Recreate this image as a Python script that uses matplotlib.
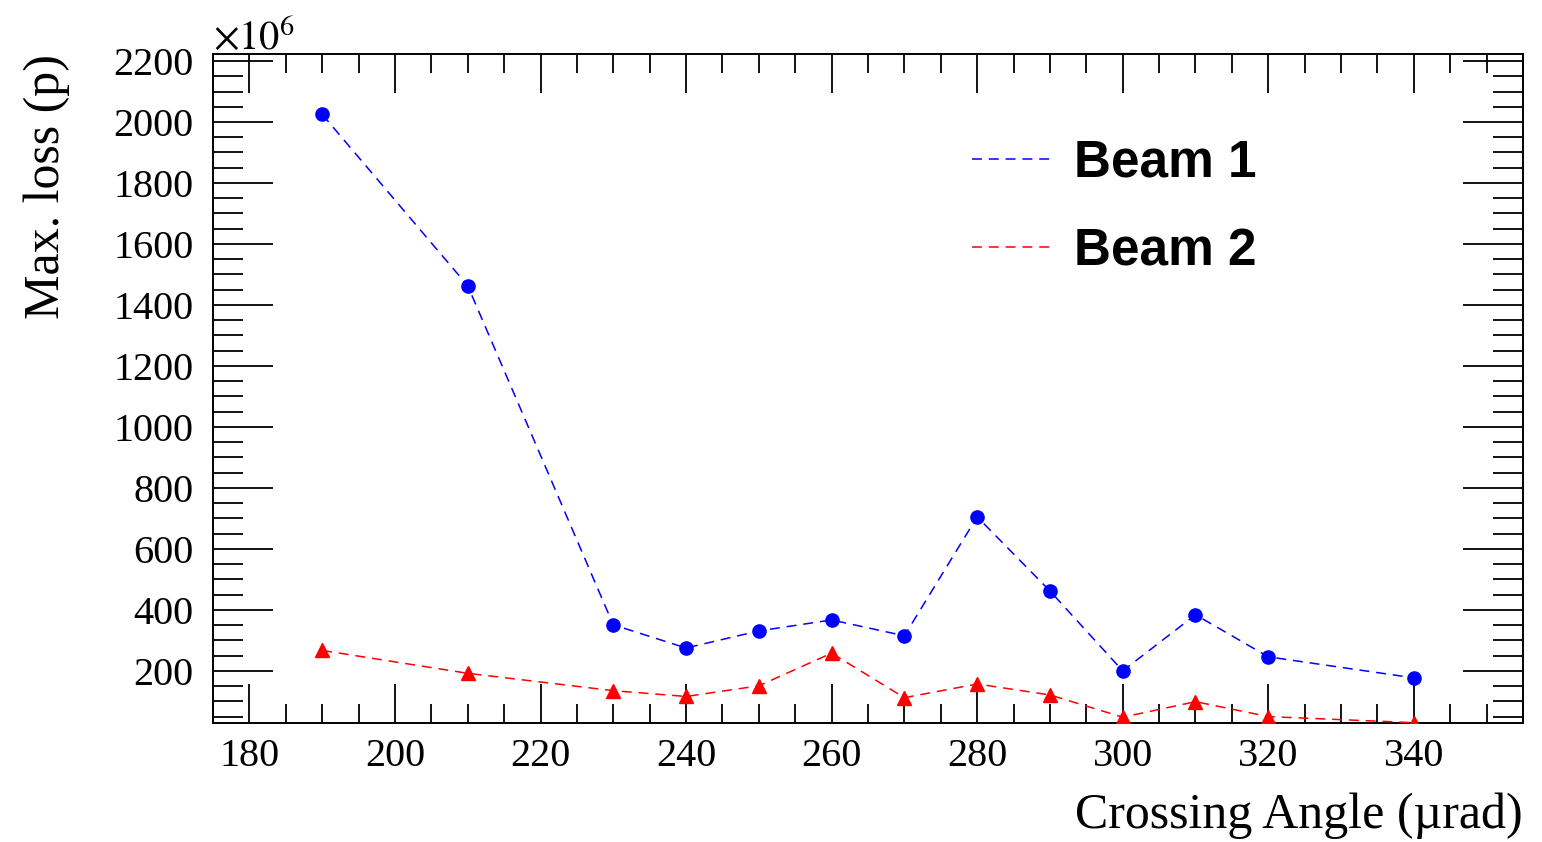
import matplotlib
matplotlib.use("Agg")
import matplotlib.pyplot as plt
from matplotlib.lines import Line2D
from matplotlib.ticker import MultipleLocator

# Crossing angle scan: maximum proton loss per beam (units of 1e6 protons)
crossing_angle = [190, 210, 230, 240, 250, 260, 270, 280, 290, 300, 310, 320, 340]
beam1_loss = [2025, 1463, 351, 275, 331, 367, 315, 705, 462, 200, 384, 246, 177]
beam2_loss = [267, 192, 135, 116, 151, 258, 112, 157, 121, 48, 99, 50, 30]
series_labels = ["Beam 1", "Beam 2"]

plt.rcParams["font.family"] = ["Liberation Serif", "DejaVu Serif"]
plt.rcParams["mathtext.fontset"] = "stix"

W, H = 1542, 842
fig = plt.figure(figsize=(W / 100, H / 100), dpi=100)
ax = fig.add_axes([213 / W, 1 - 723 / H, (1523 - 213) / W, (723 - 54) / H])

dash = (0, (6.5, 4.5))
ax.plot(crossing_angle, beam1_loss, color="#0000ff", lw=1.1, linestyle=dash,
        marker="o", ms=9.5, mec="#0000ff", mfc="#0000ff", zorder=3)
ax.plot(crossing_angle, beam2_loss, color="#ff0000", lw=1.1, linestyle=dash,
        marker="^", ms=10, mec="#ff0000", mfc="#ff0000", zorder=3)

ax.set_xlim(175, 355)
ax.set_ylim(29, 2223)
ax.xaxis.set_major_locator(MultipleLocator(20))
ax.xaxis.set_minor_locator(MultipleLocator(5))
ax.yaxis.set_major_locator(MultipleLocator(200))
ax.yaxis.set_minor_locator(MultipleLocator(50))

for sp in ax.spines.values():
    sp.set_linewidth(1.4)

ax.tick_params(which="both", direction="in", top=True, right=True,
               width=1.3, color="black")
ax.tick_params(axis="x", which="major", length=28, labelsize=29, pad=11)
ax.tick_params(axis="x", which="minor", length=14)
ax.tick_params(axis="y", which="major", length=43, labelsize=29, pad=14)
ax.tick_params(axis="y", which="minor", length=21.5)

ax.set_xlabel("Crossing Angle (\u00b5rad)", fontsize=36, loc="right")
ax.xaxis.set_label_coords(1.0, -0.104)
ax.set_ylabel("Max. loss (p)", fontsize=36, loc="top")
ax.yaxis.set_label_coords((70 - 213) / (1523 - 213), 1.0)

# axis multiplier
ax.text(0.0, 1.0075, r"$\times10^{6}$", transform=ax.transAxes,
        fontsize=29, ha="left", va="baseline")

handles = [Line2D([], [], color="#0000ff", lw=1.1, linestyle=dash),
           Line2D([], [], color="#ff0000", lw=1.1, linestyle=dash)]
ax.legend(handles, series_labels, loc="upper left",
          bbox_to_anchor=((972 - 213) / 1310, 0.873), frameon=False,
          borderpad=0, borderaxespad=0, handlelength=1.557,
          handletextpad=0.42, labelspacing=0.765,
          prop={"family": "Liberation Sans", "weight": "bold", "size": 37})

fig.savefig("out.png", dpi=100)
